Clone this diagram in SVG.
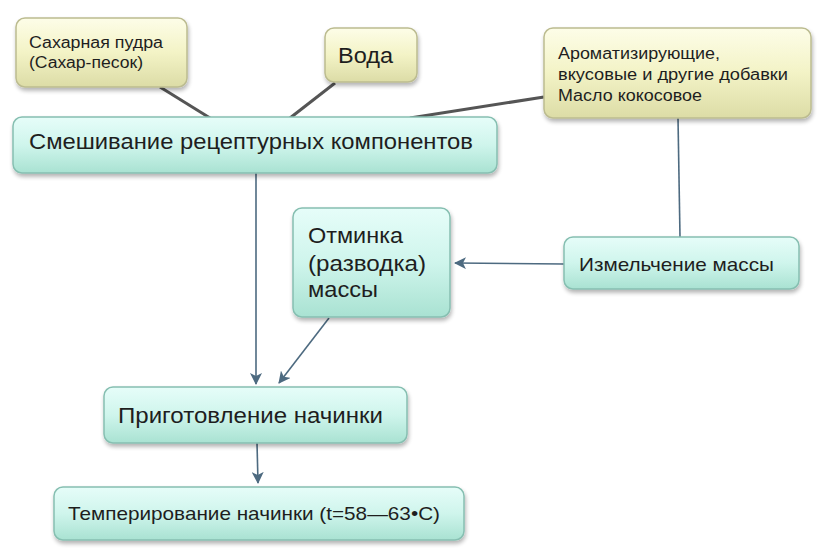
<svg xmlns="http://www.w3.org/2000/svg" width="821" height="555" viewBox="0 0 821 555">
<defs>
<linearGradient id="gTeal" x1="0" y1="0" x2="0" y2="1">
<stop offset="0" stop-color="#e6fdf9"/>
<stop offset="0.5" stop-color="#cff5ec"/>
<stop offset="1" stop-color="#a9e2d2"/>
</linearGradient>
<linearGradient id="gYel" x1="0" y1="0" x2="0" y2="1">
<stop offset="0" stop-color="#fdfde8"/>
<stop offset="0.5" stop-color="#f3f3c6"/>
<stop offset="1" stop-color="#dcdca6"/>
</linearGradient>
<filter id="sh" x="-10%" y="-10%" width="125%" height="135%">
<feGaussianBlur in="SourceAlpha" stdDeviation="2"/>
<feOffset dx="1" dy="3"/>
<feComponentTransfer><feFuncA type="linear" slope="0.3"/></feComponentTransfer>
<feMerge><feMergeNode/><feMergeNode in="SourceGraphic"/></feMerge>
</filter>
<marker id="arr" viewBox="0 0 12 12" refX="11" refY="6" markerWidth="12" markerHeight="12" markerUnits="userSpaceOnUse" orient="auto">
<path d="M0,0 L12,6 L0,12 L3,6 Z" fill="#4d6a80"/>
</marker>
</defs>
<style>
.t{fill:url(#gTeal);stroke:#86bfb1;stroke-width:1.5;filter:url(#sh)}
.y{fill:url(#gYel);stroke:#bcbc90;stroke-width:1.5;filter:url(#sh)}
text{font-family:"Liberation Sans",Arial,sans-serif;fill:#1e1e1e}
.dk{stroke:#555;stroke-width:3;fill:none}
.bl{stroke:#4d6a80;stroke-width:1.6;fill:none}
.ar{stroke:#4d6a80;stroke-width:1.6;fill:none;marker-end:url(#arr)}
</style>
<g id="connectors">
<line class="dk" x1="160" y1="87" x2="210" y2="118"/>
<line class="dk" x1="335" y1="83" x2="290" y2="118"/>
<line class="dk" x1="544" y1="97" x2="410" y2="118"/>
<line class="bl" x1="678" y1="118" x2="680" y2="237"/>
<line class="ar" x1="564" y1="264" x2="455" y2="263"/>
<line class="ar" x1="256" y1="173" x2="256" y2="384"/>
<line class="ar" x1="329" y1="318" x2="279" y2="383"/>
<line class="ar" x1="257" y1="443" x2="258" y2="483"/>
</g>
<g id="n_sugar">
<rect class="y" x="16" y="18" width="171" height="69" rx="9"/>
<text x="29" y="48" font-size="16" textLength="134" lengthAdjust="spacingAndGlyphs">Сахарная пудра</text>
<text x="29" y="68" font-size="16" textLength="114" lengthAdjust="spacingAndGlyphs">(Сахар-песок)</text>
</g>
<g id="n_water">
<rect class="y" x="325" y="28" width="92" height="54" rx="9"/>
<text x="338" y="63" font-size="22" textLength="55" lengthAdjust="spacingAndGlyphs">Вода</text>
</g>
<g id="n_flavor">
<rect class="y" x="544" y="28" width="267" height="90" rx="9"/>
<text x="558" y="59" font-size="16" textLength="162" lengthAdjust="spacingAndGlyphs">Ароматизирующие,</text>
<text x="558" y="80" font-size="16" textLength="230" lengthAdjust="spacingAndGlyphs">вкусовые и другие добавки</text>
<text x="558" y="101" font-size="16" textLength="144" lengthAdjust="spacingAndGlyphs">Масло кокосовое</text>
</g>
<g id="n_mix">
<rect class="t" x="13" y="117" width="484" height="56" rx="9"/>
<text x="29" y="149" font-size="22" textLength="444" lengthAdjust="spacingAndGlyphs">Смешивание рецептурных компонентов</text>
</g>
<g id="n_otminka">
<rect class="t" x="293" y="208" width="157" height="109" rx="9"/>
<text x="308" y="243" font-size="22" textLength="95" lengthAdjust="spacingAndGlyphs">Отминка</text>
<text x="308" y="271" font-size="22" textLength="118" lengthAdjust="spacingAndGlyphs">(разводка)</text>
<text x="308" y="297" font-size="22" textLength="70" lengthAdjust="spacingAndGlyphs">массы</text>
</g>
<g id="n_grind">
<rect class="t" x="564" y="237" width="235" height="52" rx="9"/>
<text x="579" y="271" font-size="19" textLength="195" lengthAdjust="spacingAndGlyphs">Измельчение массы</text>
</g>
<g id="n_prep">
<rect class="t" x="104" y="387" width="303" height="56" rx="9"/>
<text x="118" y="423" font-size="22" textLength="265" lengthAdjust="spacingAndGlyphs">Приготовление начинки</text>
</g>
<g id="n_temper">
<rect class="t" x="54" y="487" width="410" height="53" rx="9"/>
<text x="68" y="520" font-size="18.5" textLength="372" lengthAdjust="spacingAndGlyphs">Темперирование начинки (t=58—63•С)</text>
</g>
</svg>
